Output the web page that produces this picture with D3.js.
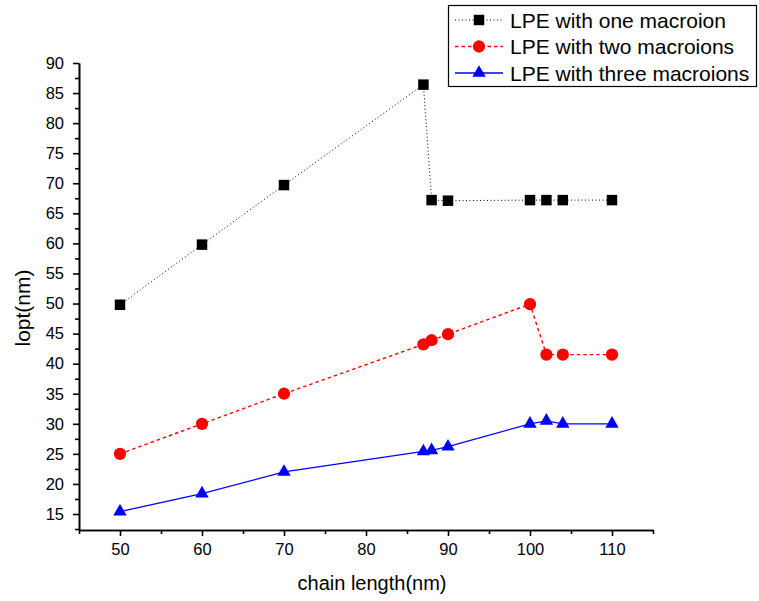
<!DOCTYPE html>
<html>
<head>
<meta charset="utf-8">
<script src="https://cdn.jsdelivr.net/npm/d3@7"></script>
<style>
  html, body { margin: 0; padding: 0; background: #fff; }
  svg { display: block; font-family: "Liberation Sans", Arial, sans-serif; }
</style>
</head>
<body>
<svg id="chart" width="759" height="601"></svg>
<script>
// Chain length (nm) at which each optimum was computed
const chainLength = [50, 60, 70, 87, 88, 90, 100, 102, 104, 110];

// lopt (nm) for each configuration
const oneMacroion   = [49.8, 59.8, 69.7, 86.4, 67.2, 67.1, 67.2, 67.2, 67.2, 67.2];
const twoMacroions  = [25.0, 30.0, 35.0, 43.2, 43.9, 44.9, 49.9, 41.5, 41.5, 41.5];
const threeMacroions = [15.4, 18.4, 22.0, 25.4, 25.6, 26.2, 30.0, 30.5, 30.0, 30.0];

const seriesNames = ["LPE with one macroion", "LPE with two macroions", "LPE with three macroions"];

const xTicks = [50, 60, 70, 80, 90, 100, 110];
const yTicks = [15, 20, 25, 30, 35, 40, 45, 50, 55, 60, 65, 70, 75, 80, 85, 90];

const svg = d3.select("#chart");

const plot = { left: 79, right: 653, top: 63, bottom: 530 };

const x = d3.scaleLinear().domain([45, 115]).range([plot.left, plot.right]);
const y = d3.scaleLinear().domain([12.34, 90]).range([plot.bottom, plot.top]);

// Axes: major ticks with labels, minor ticks halfway between
const xAxis = d3.axisBottom(x).tickValues(xTicks).tickSize(6).tickSizeOuter(0).tickPadding(7);
const xMinor = d3.axisBottom(x).tickValues(d3.range(45, 116, 5).filter(v => v % 10 !== 0)).tickSize(4).tickSizeOuter(0).tickFormat("");
const yAxis = d3.axisLeft(y).tickValues(yTicks).tickSize(6).tickSizeOuter(0).tickPadding(9);
const yMinor = d3.axisLeft(y).tickValues(d3.range(12.5, 90, 5)).tickSize(4).tickSizeOuter(0).tickFormat("");

function styleAxis(g) {
  g.selectAll("path, line").attr("stroke", "#000").attr("stroke-width", 1.6);
  g.selectAll("text").attr("fill", "#000").style("font-size", "16.5px")
    .style("font-family", "'Liberation Sans', Arial, sans-serif");
}

svg.append("g").attr("transform", `translate(0,${plot.bottom})`).call(xMinor).call(styleAxis);
svg.append("g").attr("transform", `translate(0,${plot.bottom})`).call(xAxis).call(styleAxis);
svg.append("g").attr("transform", `translate(${plot.left},0)`).call(yMinor).call(styleAxis);
svg.append("g").attr("transform", `translate(${plot.left},0)`).call(yAxis).call(styleAxis);

// Axis titles
svg.append("text")
  .attr("x", 372).attr("y", 590)
  .attr("text-anchor", "middle").style("font-size", "20px")
  .text("chain length(nm)");
svg.append("text")
  .attr("transform", "translate(30,308) rotate(-90)")
  .attr("text-anchor", "middle").style("font-size", "21px")
  .text("lopt(nm)");

const series = [
  { name: seriesNames[0], values: oneMacroion, color: "#000", dash: "1,2.5", width: 1, symbol: d3.symbolSquare, size: 110 },
  { name: seriesNames[1], values: twoMacroions, color: "#ff0000", dash: "3.5,3", width: 1.4, symbol: d3.symbolCircle, size: 118 },
  { name: seriesNames[2], values: threeMacroions, color: "#0000ff", dash: null, width: 1.3, symbol: d3.symbolTriangle, size: 78 }
];

const line = d3.line().x(d => x(d[0])).y(d => y(d[1]));

series.forEach(s => {
  const pts = chainLength.map((c, i) => [c, s.values[i]]);
  svg.append("path")
    .datum(pts)
    .attr("d", line)
    .attr("fill", "none")
    .attr("stroke", s.color)
    .attr("stroke-width", s.width)
    .attr("stroke-dasharray", s.dash);
  svg.append("g").selectAll("path")
    .data(pts)
    .join("path")
    .attr("transform", d => `translate(${x(d[0])},${y(d[1])})`)
    .attr("d", d3.symbol().type(s.symbol).size(s.size))
    .attr("fill", s.color);
});

// Legend
const legend = svg.append("g");
legend.append("rect")
  .attr("x", 448.5).attr("y", 5.5).attr("width", 308).attr("height", 81)
  .attr("fill", "#fff").attr("stroke", "#000").attr("stroke-width", 1.2);

series.forEach((s, i) => {
  const cy = 20 + i * 26.5;
  legend.append("line")
    .attr("x1", 455).attr("x2", 503).attr("y1", cy).attr("y2", cy)
    .attr("stroke", s.color).attr("stroke-width", s.width)
    .attr("stroke-dasharray", s.dash);
  legend.append("path")
    .attr("transform", `translate(479,${cy})`)
    .attr("d", d3.symbol().type(s.symbol).size(s.size))
    .attr("fill", s.color);
  legend.append("text")
    .attr("x", 510).attr("y", cy + 7.5)
    .style("font-size", "21px")
    .text(s.name);
});
</script>
</body>
</html>
